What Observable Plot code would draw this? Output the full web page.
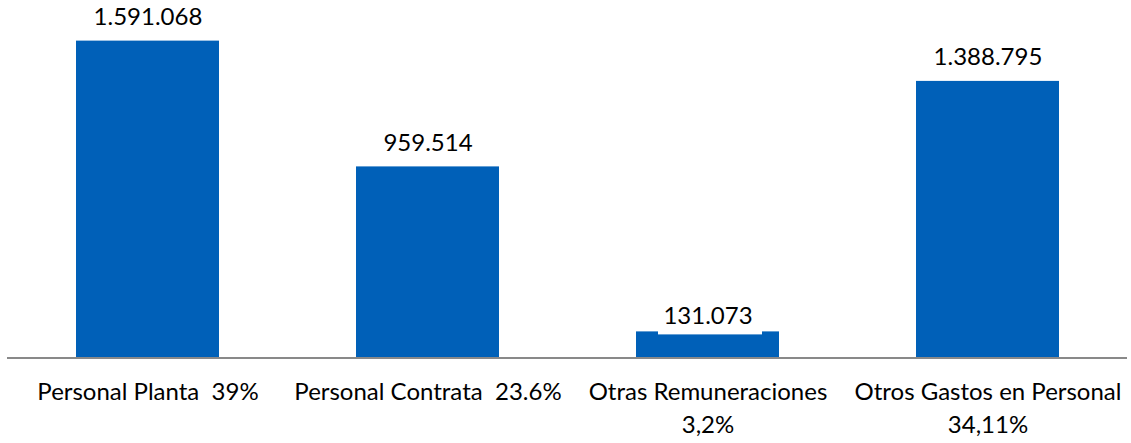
<!DOCTYPE html>
<html>
<head>
<meta charset="utf-8">
<script src="https://cdn.jsdelivr.net/npm/d3@7"></script>
<script src="https://cdn.jsdelivr.net/npm/@observablehq/plot@0.6"></script>
<style>
  html, body { margin: 0; padding: 0; background: #fff; }
  #chart svg { display: block; }
</style>
</head>
<body>
<div id="chart"></div>
<script>
const categories = ["Personal Planta", "Personal Contrata", "Otras Remuneraciones", "Otros Gastos en Personal"];
const tickLabels = ["Personal Planta  39%", "Personal Contrata  23.6%", "Otras Remuneraciones\n3,2%", "Otros Gastos en Personal\n34,11%"];
const values = [1591068, 959514, 131073, 1388795];

const data = categories.map((c, i) => ({category: c, value: values[i], index: i}));
const fmt = d3.formatLocale({thousands: ".", grouping: [3], decimal: ",", currency: ["", ""]}).format(",d");
const labelOf = new Map(categories.map((c, i) => [c, tickLabels[i]]));

const font = "Lato, 'Open Sans', sans-serif";
const fs = 24;

const chart = Plot.plot({
  width: 1131,
  height: 443,
  marginLeft: 7,
  marginRight: 4,
  marginTop: 0,
  marginBottom: 85,
  style: {fontFamily: font, fontSize: fs + "px", color: "#000", background: "#fff"},
  x: {domain: categories, paddingInner: 0.49, paddingOuter: 0.245, label: null},
  y: {domain: [0, 1800000], range: [357.5, -1], axis: null},
  marks: [
    Plot.barY(data, {x: "category", y: "value", fill: "#0060B8"}),
    Plot.barY(data.filter(d => d.index === 2), {
      x: "category", y1: "value", y2: "value", fill: "white",
      insetTop: -28, insetBottom: -3, insetLeft: 22, insetRight: 17
    }),
    Plot.ruleY([0], {stroke: "#898989", strokeWidth: 2}),
    Plot.text(data.filter(d => d.index !== 2), {
      x: "category", y: "value", text: d => fmt(d.value), dy: -24,
      fontSize: fs, fill: "#000", lineAnchor: "middle"
    }),
    Plot.text(data.filter(d => d.index === 2), {
      x: "category", y: "value", text: d => fmt(d.value), dy: -16,
      fontSize: fs, fill: "#000", lineAnchor: "middle"
    }),
    Plot.axisX({
      tickSize: 0, tickPadding: 18, fontSize: fs, lineHeight: 1.38,
      tickFormat: c => labelOf.get(c), label: null, fill: "#000"
    })
  ]
});
document.getElementById("chart").appendChild(chart);
</script>
</body>
</html>
